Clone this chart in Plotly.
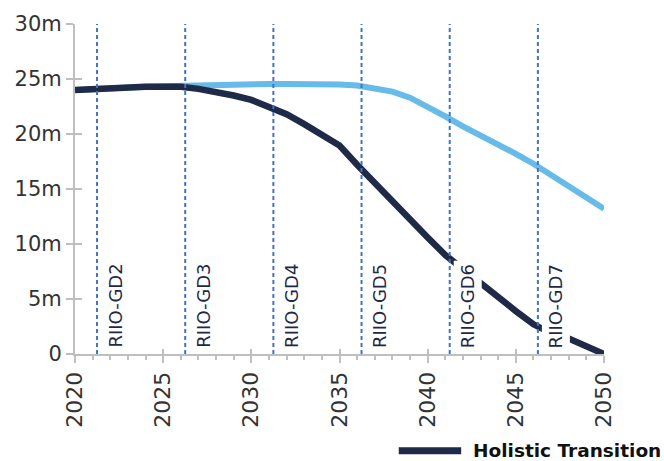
import plotly.graph_objects as go

years = list(range(2020, 2051))
holistic = [24.0, 24.1, 24.15, 24.2, 24.3, 24.3, 24.3, 24.1, 23.85, 23.5,
            23.1, 22.5, 21.8, 20.9, 20.0, 18.95, 17.2, 15.5, 13.9, 12.2,
            10.6, 9.0, 7.7, 6.4, 5.1, 3.9, 2.7, 1.9, 1.4, 0.7, 0.0]
other = [24.0, 24.1, 24.2, 24.25, 24.3, 24.35, 24.4, 24.45, 24.5, 24.5,
         24.55, 24.55, 24.55, 24.55, 24.55, 24.5, 24.4, 24.15, 23.85, 23.3,
         22.5, 21.6, 20.7, 19.9, 19.1, 18.2, 17.3, 16.3, 15.3, 14.3, 13.2]
period_starts = [2021.25, 2026.25, 2031.25, 2036.25, 2041.25, 2046.25]
period_labels = ["RIIO-GD2", "RIIO-GD3", "RIIO-GD4", "RIIO-GD5", "RIIO-GD6", "RIIO-GD7"]
y_tickvals = [0, 5, 10, 15, 20, 25, 30]
y_ticktext = ["0", "5m", "10m", "15m", "20m", "25m", "30m"]
x_tickvals = [2020, 2025, 2030, 2035, 2040, 2045, 2050]
legend_name = "Holistic Transition"

NAVY = "#1e2a47"
LIGHT = "#66bbe8"
DASH = "#4472c4"
AXIS = "#bfbfbf"
FONT = "DejaVu Sans"

fig = go.Figure()
fig.add_trace(go.Scatter(x=years, y=other, mode="lines", showlegend=False,
                         line=dict(color=LIGHT, width=6), hoverinfo="skip"))
fig.add_trace(go.Scatter(x=years, y=holistic, mode="lines", name=legend_name, showlegend=False,
                         line=dict(color=NAVY, width=6.5)))
# dummy trace for overlay axes (crossing tick marks)
fig.add_trace(go.Scatter(x=[None], y=[None], xaxis="x2", yaxis="y2", showlegend=False, hoverinfo="skip"))

for xs, lab in zip(period_starts, period_labels):
    fig.add_shape(type="line", xref="x", yref="y", x0=xs, x1=xs, y0=0, y1=30,
                  line=dict(color=DASH, width=2, dash="4px,3px"), layer="above")
    fig.add_annotation(x=xs, y=0, xref="x", yref="y", text=lab, textangle=-90,
                       showarrow=False, xanchor="left", yanchor="bottom",
                       xshift=3, yshift=2, bgcolor="white", borderpad=3,
                       font=dict(family=FONT, size=18, color=NAVY))

# manual legend
fig.add_shape(type="line", xref="paper", yref="paper", x0=0.612, x1=0.730, y0=-0.2934, y1=-0.2934,
              line=dict(color=NAVY, width=7))
fig.add_annotation(xref="paper", yref="paper", x=0.749, y=-0.2934, text="<b>" + legend_name + "</b>",
                   showarrow=False, xanchor="left", yanchor="middle",
                   font=dict(family=FONT, size=18.5, color="#111111"))

fig.update_layout(
    width=664, height=461,
    margin=dict(l=75, r=60, t=20, b=107),
    paper_bgcolor="white", plot_bgcolor="white",
    font=dict(family=FONT, color="#333333"),
    xaxis=dict(range=[2020, 2050], tickvals=x_tickvals, tickangle=-90,
               tickfont=dict(size=22, color="#333333"),
               showgrid=False, zeroline=False, showline=True, linecolor=AXIS, linewidth=2,
               ticks="outside", ticklen=7, tickwidth=2, tickcolor=AXIS,
               minor=dict(dtick=1, ticks="outside", ticklen=4, tickwidth=1.5, tickcolor=AXIS)),
    yaxis=dict(range=[0, 30], tickvals=y_tickvals, ticktext=y_ticktext,
               tickfont=dict(size=21, color="#333333"),
               showgrid=False, zeroline=False, showline=True, linecolor=AXIS, linewidth=2,
               ticks="outside", ticklen=7, tickwidth=2, tickcolor=AXIS),
    xaxis2=dict(overlaying="x", anchor="y", range=[2020, 2050], tickvals=x_tickvals,
                showticklabels=False, showgrid=False, zeroline=False, showline=False,
                ticks="inside", ticklen=5, tickwidth=2, tickcolor=AXIS, side="bottom"),
    yaxis2=dict(overlaying="y", anchor="x", range=[0, 30], tickvals=y_tickvals,
                showticklabels=False, showgrid=False, zeroline=False, showline=False,
                ticks="inside", ticklen=7, tickwidth=2, tickcolor=AXIS, side="left"),
    showlegend=False,
)

fig.write_html("out.html")
